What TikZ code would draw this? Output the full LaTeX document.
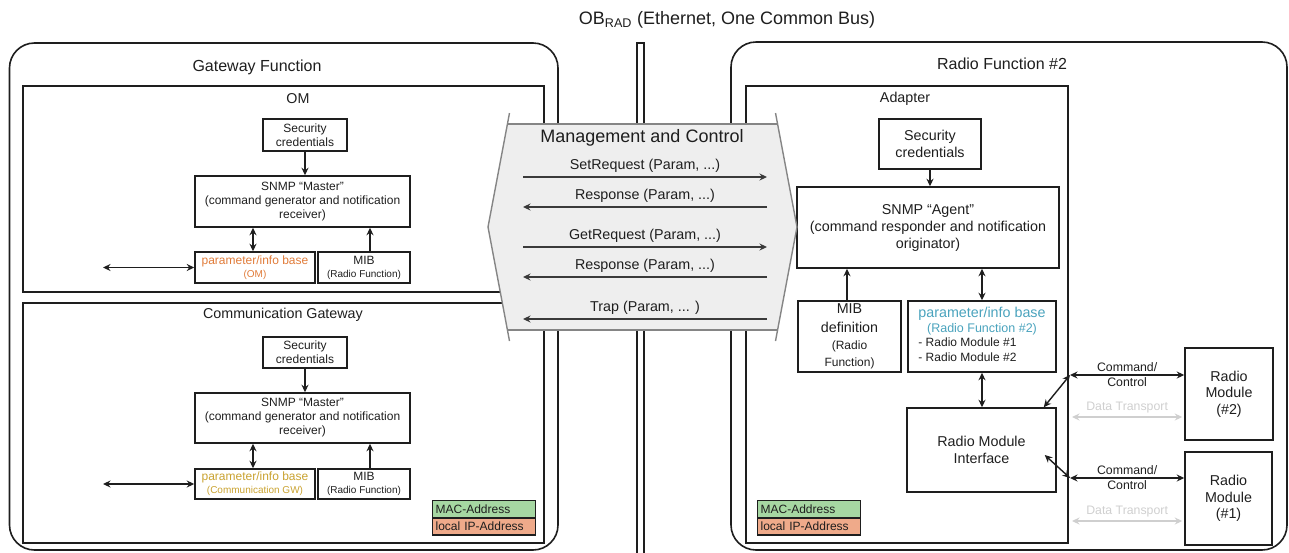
\documentclass[tikz,border=0pt]{standalone}
\usepackage{fontspec}
\setmainfont{Liberation Sans}
\usetikzlibrary{arrows.meta}

\definecolor{ink}{HTML}{1E1E1E}
\definecolor{omorange}{HTML}{E07B39}
\definecolor{gwgold}{HTML}{C9A230}
\definecolor{rfteal}{HTML}{4AA3BD}
\definecolor{macgreen}{HTML}{A6D7A2}
\definecolor{ipsalmon}{HTML}{EFAA8A}
\definecolor{hexfill}{HTML}{EEEEEE}
\definecolor{hexline}{HTML}{858585}
\definecolor{msgline}{HTML}{3A3A3A}
\definecolor{dtgray}{HTML}{CFCFCF}

\newcommand\setfs[2]{\fontsize{#1}{#2}\selectfont}

\tikzset{
  container/.style={draw=ink, line width=1.6pt, inner sep=0pt},
  box/.style={draw=ink, line width=1.5pt, inner sep=0pt, align=center, text=ink, font=\setfs{12}{14}},
  bigbox/.style={box, font=\setfs{14.3}{17}},
  title/.style={text=ink, inner sep=0pt},
  conn/.style={draw=ink, line width=1.4pt},
  msg/.style={draw=msgline, line width=1.3pt},
  lbl/.style={above, inner sep=0pt, yshift=4pt, font=\setfs{14.3}{16}, text=ink},
  dt/.style={draw=dtgray, line width=1.3pt},
  tag/.style={draw=ink, line width=1.3pt, anchor=north west, inner ysep=0pt, inner xsep=3pt,
              text width=97pt, minimum height=16.5pt, align=left, font=\setfs{12}{14}, text=ink},
}

\begin{document}
\begin{tikzpicture}[x=1pt, y=-1pt, >={Stealth[length=7.5pt,width=7pt]}]
\useasboundingbox (0,0) rectangle (1289,552);

% ---------- bus title ----------
\node[title, font=\setfs{18}{20}] (bus title) at (727,20) {OB\textsubscript{RAD} (Ethernet, One Common Bus)};

% ---------- Gateway Function ----------
\node[container, rounded corners=25pt, minimum width=548.5pt, minimum height=507pt] (gwf) at (283.75,296.5) {};
\node[title, font=\setfs{16}{18}] (gwfT) at (257,67) {Gateway Function};

% OM
\node[container, minimum width=521pt, minimum height=206pt] (om) at (283.5,189) {};
\node[title, font=\setfs{14.3}{16}] (omT) at (298,99) {OM};
\node[box, minimum width=84pt, minimum height=32pt] (sec1) at (305,135) {Security\\credentials};
\node[box, minimum width=215pt, minimum height=51pt] (mas1) at (302.5,201.5)
  {SNMP “Master”\\(command generator and notification\\receiver)};
\node[box, minimum width=120pt, minimum height=31pt, text=omorange, font=\setfs{12}{13}] (par1) at (255,267.5)
  {parameter/info base\\{\setfs{10}{12}(OM)}};
\node[box, minimum width=92pt, minimum height=31pt, font=\setfs{12}{13}] (mib1) at (364,267.5)
  {MIB\\{\setfs{10}{12}(Radio Function)}};
\coordinate (ext1) at (103,267.5);
\draw[conn,->] (sec1.south) -- (sec1.south |- mas1.north);
\draw[conn,<->] ([xshift=-2pt]par1.north) -- ([xshift=-2pt]par1.north |- mas1.south);
\draw[conn,->] ([xshift=6pt]mib1.north) -- ([xshift=6pt]mib1.north |- mas1.south);
\draw[conn,<->] (ext1) -- (par1.west);

% Communication Gateway
\node[container, minimum width=521pt, minimum height=240pt] (cg) at (283.5,423) {};
\node[title, font=\setfs{14.3}{16}] (cgT) at (283,315) {Communication Gateway};
\node[box, minimum width=84pt, minimum height=31pt] (sec2) at (305,352.5) {Security\\credentials};
\node[box, minimum width=215pt, minimum height=50pt] (mas2) at (302.5,418)
  {SNMP “Master”\\(command generator and notification\\receiver)};
\node[box, minimum width=120pt, minimum height=30pt, text=gwgold, font=\setfs{12}{13}] (par2) at (255,484)
  {parameter/info base\\{\setfs{10}{12}(Communication GW)}};
\node[box, minimum width=92pt, minimum height=30pt, font=\setfs{12}{13}] (mib2) at (364,484)
  {MIB\\{\setfs{10}{12}(Radio Function)}};
\coordinate (ext2) at (103,484);
\draw[conn,->] (sec2.south) -- (sec2.south |- mas2.north);
\draw[conn,<->] ([xshift=-2pt]par2.north) -- ([xshift=-2pt]par2.north |- mas2.south);
\draw[conn,->] ([xshift=6pt]mib2.north) -- ([xshift=6pt]mib2.north |- mas2.south);
\draw[conn,<->] (ext2) -- (par2.west);

\node[tag, fill=macgreen] (mac1) at (432,500) {MAC-Address};
\node[tag, fill=ipsalmon] (ip1) at (mac1.south west) {local IP-Address};

% ---------- Radio Function #2 ----------
\node[container, rounded corners=25pt, minimum width=556pt, minimum height=508pt] (rf) at (1009,296) {};
\node[title, font=\setfs{16}{18}] (rfT) at (1002,64) {Radio Function \#2};
\node[container, minimum width=322pt, minimum height=457pt] (ad) at (907,314.5) {};
\node[title, font=\setfs{14.3}{16}] (adT) at (905,99) {Adapter};

\node[bigbox, minimum width=102pt, minimum height=50pt] (sec3) at (930,144) {Security\\credentials};
\node[bigbox, minimum width=262pt, minimum height=81pt] (agent) at (928,227.5)
  {SNMP “Agent”\\(command responder and notification\\originator)};
\node[bigbox, minimum width=103pt, minimum height=71pt] (mibd) at (849.5,336.5)
  {MIB\\[2pt]definition\\{\setfs{12}{14}(Radio}\\{\setfs{12}{14}Function)}};
\node[box, minimum width=148pt, minimum height=71pt] (par3) at (982,336.5)
  {\def\arraystretch{1.05}\begin{tabular}{@{}l@{}}
   \multicolumn{1}{@{}c@{}}{\color{rfteal}\setfs{14.3}{16}parameter/info base}\\
   \multicolumn{1}{@{}c@{}}{\color{rfteal}\setfs{12.5}{14}(Radio Function \#2)}\\
   - Radio Module \#1\\
   - Radio Module \#2
   \end{tabular}};
\node[bigbox, minimum width=149pt, minimum height=84pt] (rmi) at (981.5,450) {Radio Module\\Interface};

\draw[conn,->] (sec3.south) -- (sec3.south |- agent.north);
\draw[conn,->] ([xshift=-2.5pt]mibd.north) -- ([xshift=-2.5pt]mibd.north |- agent.south);
\draw[conn,<->] (par3.north) -- (par3.north |- agent.south);
\draw[conn,<->] (par3.south) -- (par3.south |- rmi.north);

\node[tag, fill=macgreen] (mac2) at (757,500) {MAC-Address};
\node[tag, fill=ipsalmon] (ip2) at (mac2.south west) {local IP-Address};

% radio modules
\node[bigbox, minimum width=88pt, minimum height=92pt, font=\setfs{14.3}{16.7}] (rm2) at (1229,394) {Radio\\Module\\(\#2)};
\node[bigbox, minimum width=87pt, minimum height=93pt, font=\setfs{14.3}{16.7}] (rm1) at (1228.5,498.5) {Radio\\Module\\(\#1)};

\coordinate (j1) at (1070,375);
\coordinate (j2) at (1070,478);
\coordinate (rmiTop) at ([xshift=-13pt]rmi.north east);
\coordinate (rmiSide) at ([xshift=-12pt,yshift=-5pt]rmi.east);
\draw[conn,<->] (j1) -- node[midway, inner sep=0pt, align=center, font=\setfs{12.3}{15}, text=ink] {Command/\\Control} (rm2.west |- j1);
\draw[conn,<->] (j1) -- (rmiTop);
\draw[conn,<->] (j2) -- node[midway, inner sep=0pt, align=center, font=\setfs{12.3}{15}, text=ink] {Command/\\Control} (rm1.west |- j2);
\draw[conn,<->] (j2) -- (rmiSide);

\coordinate (dt2a) at (1072,417);
\coordinate (dt1a) at (1072,521);
\draw[dt,<->] (dt2a) -- node[lbl, font=\setfs{12.3}{14}, text=dtgray, yshift=-0.5pt] {Data Transport} ([xshift=-2pt]rm2.west |- dt2a);
\draw[dt,<->] (dt1a) -- node[lbl, font=\setfs{12.3}{14}, text=dtgray, yshift=-0.5pt] {Data Transport} ([xshift=-2pt]rm1.west |- dt1a);

% ---------- OB_RAD bus ----------
\draw[ink, line width=1.4pt, fill=white] (637,558) -- (637,43) -- (644,43) -- (644,558);

% ---------- Management and Control ----------
\fill[hexfill] (507.4,124) -- (777.6,124) -- (797,227) -- (777.4,330) -- (507.6,330) -- (488,227) -- cycle;
\draw[hexline, line width=1.4pt] (507.4,124) -- (777.6,124) (507.6,330) -- (777.4,330);
\draw[hexline, line width=1.4pt] (509.5,113) -- (488,227) -- (509.5,341) (775.5,113) -- (797,227) -- (775.5,341);
\node[title, font=\setfs{18}{20}] (mcT) at (642,138) {Management and Control};

\coordinate (mL1) at (523,177); \coordinate (mR1) at (767,177);
\coordinate (mL2) at (523,207); \coordinate (mR2) at (767,207);
\coordinate (mL3) at (523,247); \coordinate (mR3) at (767,247);
\coordinate (mL4) at (523,277); \coordinate (mR4) at (767,277);
\coordinate (mL5) at (523,319); \coordinate (mR5) at (767,319);
\draw[msg,->] (mL1) -- node[lbl] {SetRequest (Param, ...)} (mR1);
\draw[msg,->] (mR2) -- node[lbl] {Response (Param, ...)} (mL2);
\draw[msg,->] (mL3) -- node[lbl] {GetRequest (Param, ...)} (mR3);
\draw[msg,->] (mR4) -- node[lbl] {Response (Param, ...)} (mL4);
\draw[msg,->] (mR5) -- node[lbl] {Trap (Param, ... )} (mL5);
\end{tikzpicture}
\end{document}
